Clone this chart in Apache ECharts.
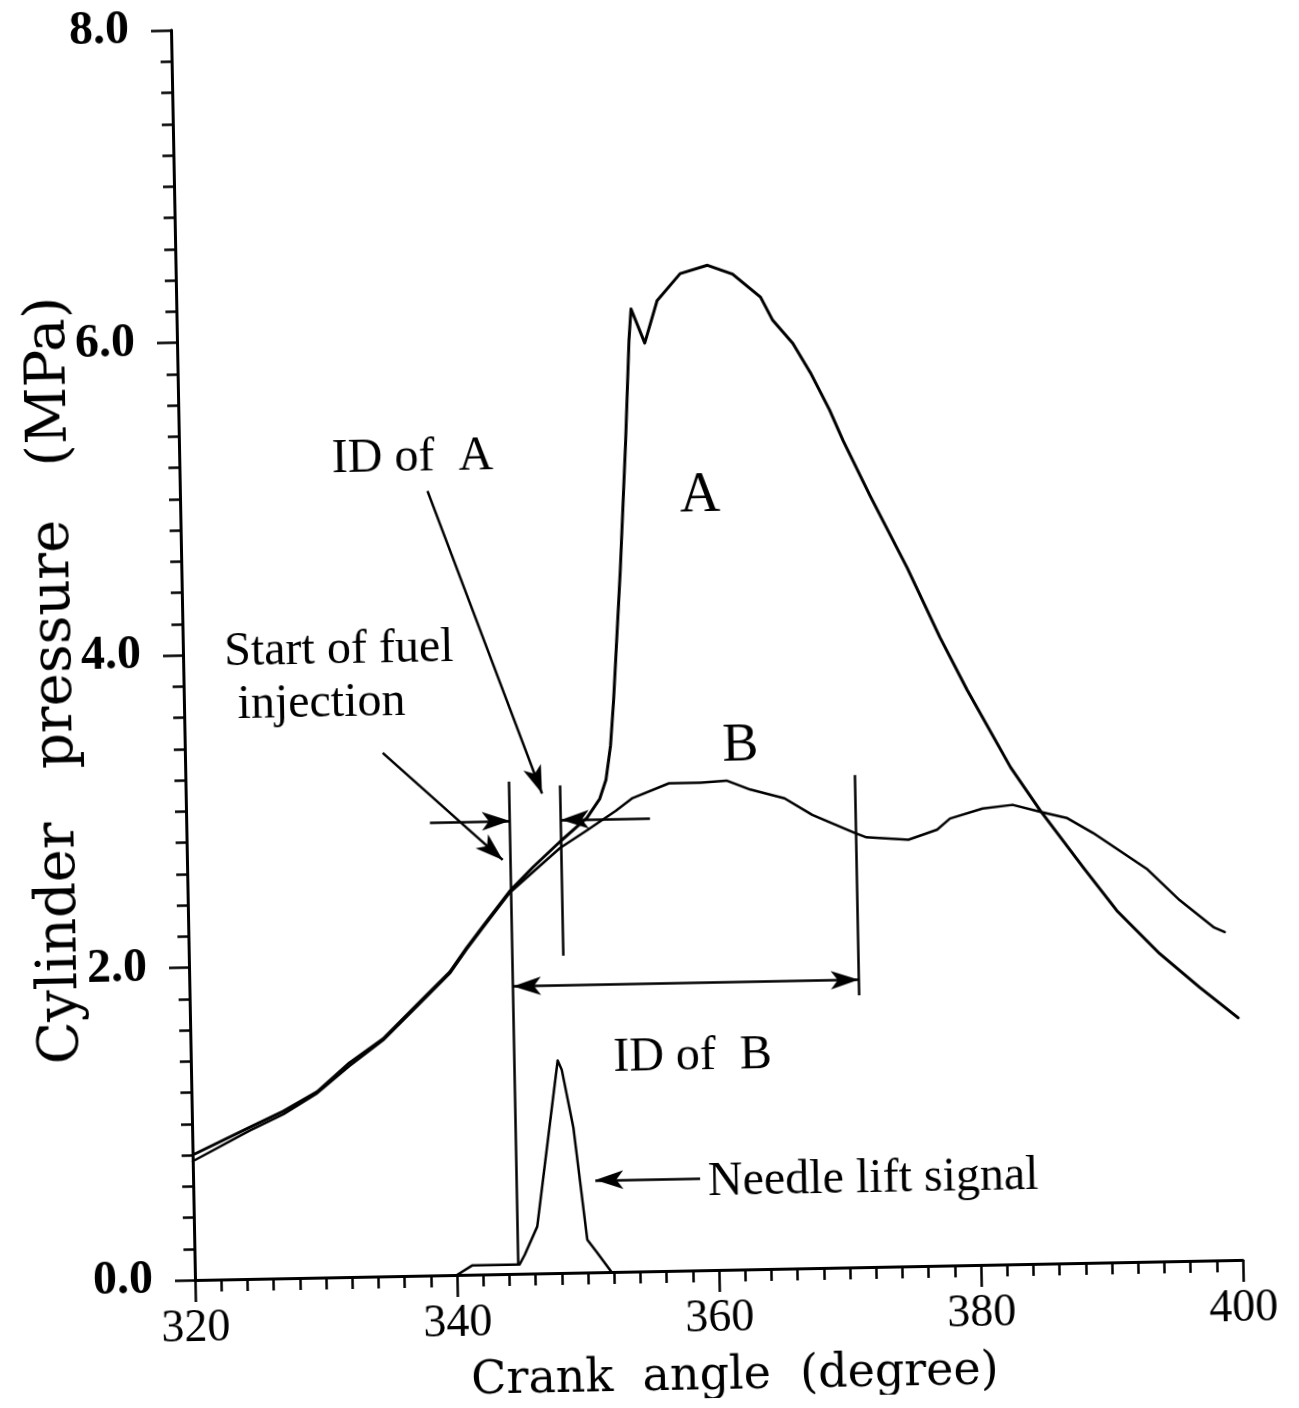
<!DOCTYPE html>
<html>
<head>
<meta charset="utf-8">
<script src="https://cdn.jsdelivr.net/npm/echarts@6/dist/echarts.min.js"></script>
<style>
  html, body { margin: 0; padding: 0; background: #fff; overflow: hidden; }
  #chart { width: 1299px; height: 1408px; transform: rotate(-1.1deg); transform-origin: 195px 1280px; }
</style>
</head>
<body>
<div id="chart"></div>
<script>
// Cylinder pressure traces (crank angle in degrees, pressure in MPa)
const angleA = [320, 324.4, 327, 329.6, 332.1, 334.7, 337.3, 339.9, 341.2, 342.5, 344.6, 346.4, 348.5, 350.6, 351.6, 352.1, 352.5, 352.8, 353.5, 354.1, 354.5, 354.7, 355.7, 356.7, 358.5, 360.6, 362.5, 364.6, 365.5, 367.0, 368.3, 369.7, 370.7, 372.7, 375.4, 377.8, 379.8, 383.0, 385.2, 388.4, 390.9, 394.1, 397.1, 400];
const pressureA = [0.80, 0.97, 1.07, 1.19, 1.37, 1.52, 1.73, 1.94, 2.09, 2.23, 2.45, 2.60, 2.76, 2.91, 3.03, 3.15, 3.37, 3.66, 4.49, 5.32, 5.96, 6.16, 5.94, 6.21, 6.38, 6.43, 6.37, 6.22, 6.07, 5.92, 5.73, 5.49, 5.29, 4.93, 4.47, 4.02, 3.68, 3.18, 2.90, 2.53, 2.25, 1.97, 1.75, 1.55];

const angleB = [320, 324.4, 327, 329.6, 332.1, 334.7, 337.3, 339.9, 341.2, 342.5, 344.6, 346.4, 348.5, 350.6, 352.8, 354.1, 356.9, 359.3, 361.3, 363.1, 365.7, 367.8, 371.0, 371.9, 375.1, 377.3, 378.3, 380.8, 383.1, 385.3, 387.2, 389.2, 393.3, 395.7, 398.3, 399.1];
const pressureB = [0.76, 0.95, 1.05, 1.18, 1.35, 1.51, 1.72, 1.93, 2.08, 2.22, 2.44, 2.57, 2.72, 2.83, 2.95, 3.03, 3.12, 3.12, 3.13, 3.07, 3.01, 2.90, 2.78, 2.75, 2.73, 2.79, 2.86, 2.92, 2.94, 2.89, 2.85, 2.75, 2.51, 2.31, 2.13, 2.10];

// Needle lift signal (same vertical scale)
const angleNeedle = [340, 341.2, 344.8, 345.2, 346.2, 348.0, 348.3, 349.1, 350.0, 350.7, 351.8];
const liftNeedle = [0, 0.06, 0.06, 0.12, 0.30, 1.36, 1.30, 0.93, 0.21, 0.13, 0];

// Tick labels
const xTicks = [320, 340, 360, 380, 400];
const yTicks = [0, 2, 4, 6, 8];

// Reference lines: start of injection and ends of the ignition delays
const startOfInjection = 344.7;
const endDelayA = 348.6;
const endDelayB = 371.1;
const guideLines = [
  [[startOfInjection, 0.06], [startOfInjection, 3.15]],
  [[endDelayA, 2.03], [endDelayA, 3.12]],
  [[endDelayB, 1.74], [endDelayB, 3.15]]
];

// Arrows: [from, to, arrow at both ends]
const arrows = [
  [[338.6, 2.90], [startOfInjection, 2.90], false],
  [[355.4, 2.90], [endDelayA, 2.90], false],
  [[startOfInjection, 1.84], [endDelayB, 1.84], true],
  [[358.7, 0.59], [350.7, 0.59], false],
  [[335.1, 3.35], [344.1, 2.65], false],
  [[338.9, 5.02], [347.2, 3.07], false]
];

// Annotation texts and their anchor points
const noteText = ['A', 'B', 'ID of  A', 'Start of fuel', 'injection', 'ID of  B', 'Needle lift signal'];
const notePos = [[359.7, 4.95], [362.4, 3.35], [337.8, 5.23], [331.9, 4.01], [330.5, 3.67], [358.3, 1.37], [359.3, 0.56]];

const pairs = (xs, ys) => xs.map((x, i) => [x, ys[i]]);

const noteSize = [56, 54, 48, 48, 48, 48, 48];
const noteAlign = ['center', 'center', 'center', 'center', 'center', 'center', 'left'];

const chart = echarts.init(document.getElementById('chart'), null, { renderer: 'canvas' });

const curveStyle = (w) => ({ color: '#000', width: w, cap: 'round', join: 'round' });

chart.setOption({
  animation: false,
  backgroundColor: '#fff',
  grid: { left: 195, top: 30, width: 1048, height: 1250, containLabel: false, outerBoundsMode: 'none' },
  xAxis: {
    type: 'value', min: 320, max: 400, interval: 20,
    name: 'Crank  angle  (degree)', nameLocation: 'middle', nameGap: 84, nameMoveOverlap: false,
    nameTextStyle: { fontFamily: 'DejaVu Serif', fontSize: 46, color: '#000', padding: [0, 0, 0, 28] },
    axisLine: { show: true, onZero: false, lineStyle: { color: '#000', width: 3 } },
    axisTick: { show: true, length: 22, lineStyle: { color: '#000', width: 2.5 } },
    minorTick: { show: true, splitNumber: 10, length: 12, lineStyle: { color: '#000', width: 2.5 } },
    splitLine: { show: false },
    axisLabel: {
      margin: 26, color: '#000', fontFamily: 'Liberation Serif', fontSize: 46,
      formatter: v => (xTicks.includes(v) ? String(v) : '')
    }
  },
  yAxis: {
    type: 'value', min: 0, max: 8, interval: 2,
    name: 'Cylinder   pressure   (MPa)', nameLocation: 'middle', nameGap: 100, nameRotate: 90,
    nameMoveOverlap: false,
    nameTextStyle: { fontFamily: 'DejaVu Serif', fontSize: 56, color: '#000', padding: [0, 46, 0, 0] },
    axisLine: { show: true, onZero: false, lineStyle: { color: '#000', width: 3 } },
    axisTick: { show: true, length: 20, lineStyle: { color: '#000', width: 2.5 } },
    minorTick: { show: true, splitNumber: 10, length: 11, lineStyle: { color: '#000', width: 2.5 } },
    splitLine: { show: false },
    axisLabel: {
      margin: 42, color: '#000', fontFamily: 'Liberation Serif', fontWeight: 'bold', fontSize: 48,
      formatter: v => (yTicks.includes(v) ? v.toFixed(1) : '')
    }
  },
  series: [
    {
      name: 'A', type: 'line', symbol: 'none', silent: true,
      data: pairs(angleA, pressureA), lineStyle: curveStyle(3)
    },
    {
      name: 'B', type: 'line', symbol: 'none', silent: true,
      data: pairs(angleB, pressureB), lineStyle: curveStyle(2.5)
    },
    {
      name: 'Needle lift', type: 'line', symbol: 'none', silent: true,
      data: pairs(angleNeedle, liftNeedle), lineStyle: curveStyle(2.5)
    },
    {
      name: 'guides', type: 'line', data: [], silent: true,
      markLine: {
        silent: true, animation: false, precision: 3,
        label: { show: false },
        emphasis: { disabled: true },
        lineStyle: { color: '#000', width: 2.5, type: 'solid' },
        symbolSize: [14, 28],
        data: guideLines.map(g => [
          { coord: g[0], symbol: 'none' },
          { coord: g[1], symbol: 'none' }
        ]).concat(arrows.map(a => [
          { coord: a[0], symbol: a[2] ? 'arrow' : 'none' },
          { coord: a[1], symbol: 'arrow' }
        ]))
      }
    },
    {
      name: 'notes', type: 'scatter', silent: true,
      symbolSize: 1, itemStyle: { color: '#fff', opacity: 0 },
      data: notePos.map((p, i) => ({
        value: p, name: noteText[i],
        label: { fontSize: noteSize[i], align: noteAlign[i], color: '#000', opacity: 1 }
      })),
      label: {
        show: true, position: 'inside', formatter: p => p.name,
        color: '#000', fontFamily: 'Liberation Serif', verticalAlign: 'middle',
        textBorderWidth: 0
      }
    }
  ]
});
</script>
</body>
</html>
